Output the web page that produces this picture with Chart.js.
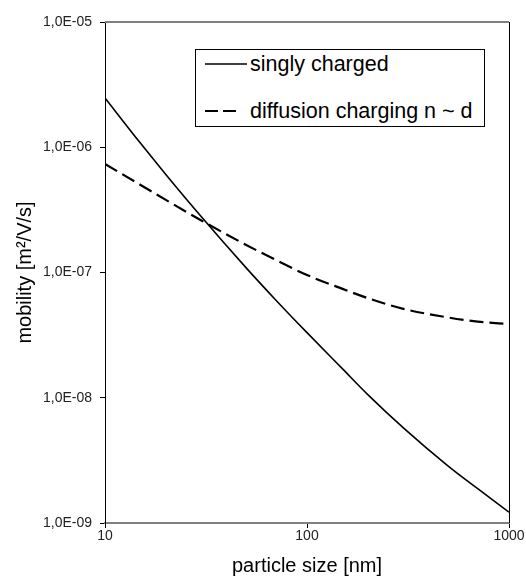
<!DOCTYPE html>
<html>
<head>
<meta charset="utf-8">
<script src="https://cdn.jsdelivr.net/npm/chart.js@4.4.1/dist/chart.umd.min.js"></script>
<style>
  html, body { margin: 0; padding: 0; background: #fff; }
  #wrap { position: relative; width: 526px; height: 578px; }
  #legend { position: absolute; left: 195px; top: 49px; width: 288px; height: 76px;
    border: 1px solid #000; background: #fff; font-family: "Liberation Sans", Arial, sans-serif;
    font-size: 21.5px; color: #000; }
  .row { position: absolute; left: 0; height: 24px; display: flex; align-items: center; white-space: nowrap; }
  .row svg { margin-left: 9px; margin-right: 3px; }
</style>
</head>
<body>
<div id="wrap">
  <canvas id="c" width="526" height="578"></canvas>
  <div id="legend"></div>
</div>
<script>
// particle size [nm]
const sizes = [10, 15, 20, 30, 50, 70, 100, 150, 200, 300, 500, 700, 1000];
// mobility [m2/V/s], singly charged
const singlyCharged = [2.47e-6, 1.074e-6, 6.07e-7, 2.786e-7, 1.089e-7, 6.04e-8, 3.31e-8, 1.70e-8, 1.06e-8, 5.75e-9, 2.85e-9, 1.88e-9, 1.22e-9];
// mobility [m2/V/s], diffusion charging n ~ d
const diffusionCharging = [7.35e-7, 5.0e-7, 3.8e-7, 2.6e-7, 1.66e-7, 1.26e-7, 9.55e-8, 7.4e-8, 6.24e-8, 5.13e-8, 4.37e-8, 4.05e-8, 3.88e-8];
const seriesLabels = ["singly charged", "diffusion charging n ~ d"];
const xTicks = [10, 100, 1000];
const yTicks = [1e-9, 1e-8, 1e-7, 1e-6, 1e-5];

function fmtY(v) {
  const e = Math.round(Math.log10(v));
  return "1,0E" + (e < 0 ? "-" : "+") + String(Math.abs(e)).padStart(2, "0");
}

const FONT = "'Liberation Sans', Arial, sans-serif";

const frame = {
  id: "frame",
  afterDatasetsDraw(chart) {
    const { ctx, chartArea: a } = chart;
    ctx.save();
    ctx.strokeStyle = "#808080";
    ctx.lineWidth = 2;
    ctx.beginPath(); ctx.moveTo(a.left, a.top); ctx.lineTo(a.right, a.top); ctx.stroke();
    ctx.strokeStyle = "#000";
    ctx.lineWidth = 1;
    ctx.beginPath(); ctx.moveTo(a.right + 0.5, a.top); ctx.lineTo(a.right + 0.5, a.bottom); ctx.stroke();
    ctx.restore();
  }
};

const chart = new Chart(document.getElementById("c"), {
  type: "scatter",
  data: {
    datasets: [
      {
        label: seriesLabels[0],
        data: sizes.map((x, i) => ({ x, y: singlyCharged[i] })),
        showLine: true, borderColor: "#000", borderWidth: 1.6, pointRadius: 0,
        cubicInterpolationMode: "monotone", borderDash: []
      },
      {
        label: seriesLabels[1],
        data: sizes.map((x, i) => ({ x, y: diffusionCharging[i] })),
        showLine: true, borderColor: "#000", borderWidth: 2.2, pointRadius: 0,
        cubicInterpolationMode: "monotone", borderDash: [14, 6]
      }
    ]
  },
  options: {
    responsive: false, animation: false,
    layout: { padding: { left: 0, top: 22, right: 17, bottom: 0 } },
    plugins: { legend: { display: false }, tooltip: { enabled: false } },
    scales: {
      x: {
        type: "logarithmic", min: 10, max: 1000,
        afterBuildTicks: s => { s.ticks = xTicks.map(v => ({ value: v })); },
        afterFit: s => { s.height = 55; },
        ticks: { color: "#222", font: { family: FONT, size: 14, lineHeight: 1 }, padding: 1,
          maxRotation: 0, autoSkip: false, callback: v => String(v) },
        grid: { drawOnChartArea: false, drawTicks: true, tickLength: 5, tickColor: "#000" },
        border: { color: "#808080", width: 2 },
        title: { display: true, text: "particle size [nm]", color: "#000",
          font: { family: FONT, size: 20 }, padding: { top: 0, bottom: 0 } }
      },
      y: {
        type: "logarithmic", min: 1e-9, max: 1e-5,
        afterBuildTicks: s => { s.ticks = yTicks.map(v => ({ value: v })); },
        afterFit: s => { s.width = 105; },
        ticks: { color: "#222", font: { family: FONT, size: 14 }, padding: 8,
          autoSkip: false, callback: v => fmtY(v) },
        grid: { drawOnChartArea: false, drawTicks: true, tickLength: 5, tickColor: "#000" },
        border: { color: "#000", width: 1 },
        title: { display: true, text: "mobility [m²/V/s]", color: "#000",
          font: { family: FONT, size: 20 }, padding: { top: 13, bottom: 0 } }
      }
    }
  },
  plugins: [frame]
});

// legend built from the datasets
const leg = document.getElementById("legend");
chart.data.datasets.forEach((ds, i) => {
  const row = document.createElement("div");
  row.className = "row";
  row.style.top = (i === 0 ? 2 : 49) + "px";
  const dashed = ds.borderDash && ds.borderDash.length;
  row.innerHTML = '<svg width="42" height="6"><line x1="0" y1="3" x2="' + (dashed ? 31 : 42) +
    '" y2="3" stroke="#000" stroke-width="' + ds.borderWidth + '"' +
    (dashed ? ' stroke-dasharray="13 5"' : '') + '/></svg><span></span>';
  row.querySelector("span").textContent = ds.label;
  leg.appendChild(row);
});
</script>
</body>
</html>
